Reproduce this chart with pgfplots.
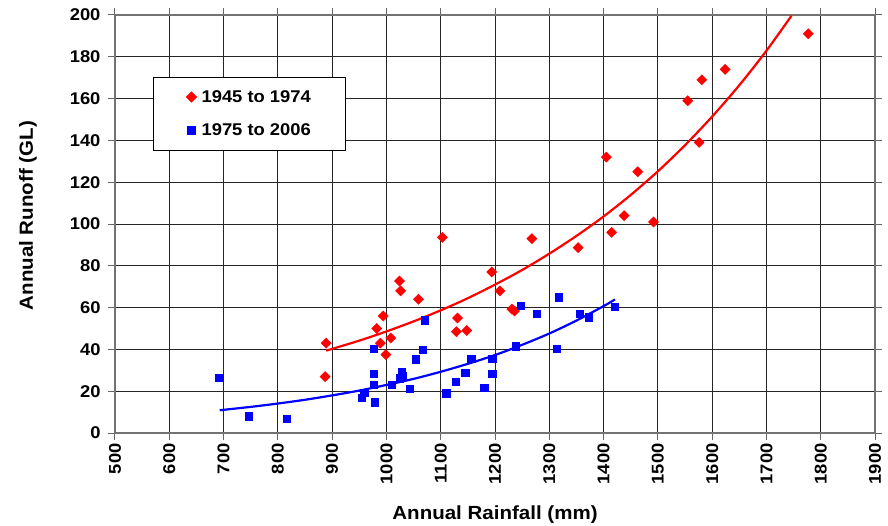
\documentclass[border=0pt]{standalone}
\usepackage{fontspec}
\setmainfont{Liberation Sans}[FakeStretch=1.08]
\usepackage{pgfplots}
\pgfplotsset{compat=1.18}
\begin{document}
\begin{tikzpicture}
\useasboundingbox (-115pt,-92pt) rectangle (773pt,433pt);
\begin{axis}[
  scale only axis, width=760pt, height=418pt,
  xmin=500, xmax=1900, ymin=0, ymax=200,
  xtick={500,600,...,1900}, ytick={0,20,...,200},
  grid=major, major grid style={black!85, line width=0.8pt},
  axis line style={black!55, line width=1.3pt},
  tick align=outside, major tick length=7pt,
  tick style={black!60, line width=1pt},
  /pgf/number format/assume math mode=true,
  /pgf/number format/1000 sep={},
  xticklabel style={rotate=90, anchor=east, font=\bfseries\fontsize{17}{17}\selectfont},
  yticklabel style={xshift=-4pt, font=\bfseries\fontsize{17}{17}\selectfont},
  xlabel={Annual Rainfall (mm)}, ylabel={Annual Runoff (GL)},
  label style={font=\bfseries\fontsize{19}{19}\selectfont},
  xlabel style={at={(axis description cs:0.5,-0.194)}, anchor=center},
  ylabel style={at={(axis description cs:-0.1145,0.52)}, anchor=center},
  legend style={at={(0.05,0.8517)}, anchor=north west, draw=black, line width=0.8pt,
    font=\bfseries\fontsize{17}{17}\selectfont, inner xsep=33pt, inner ysep=11pt,
    row sep=16pt},
  legend cell align=left,
  /tikz/every odd column/.append style={column sep=3pt},
]
\addplot[only marks, mark=square*, mark size=3.6pt, color=red, mark options={rotate=45}]
coordinates {
(889,43) (887,27) (1103,93.6) (1268,93) (1353,88.7) (1415,96) (1024,72.7) (1026,68)
(1059,64) (1194,77) (1209,68) (1231,59.3) (1236,58.4) (994,56) (982,50) (989,43)
(1008,45.5) (999,37.5) (1131,55) (1129,48.5) (1148,49) (1777,191) (1624,174) (1581,169)
(1555,159) (1576,139) (1463,125) (1438,104) (1492,101) (1405,132)
};
\addlegendentry{1945 to 1974}
\addplot[only marks, mark=square*, mark size=3.6pt, color=blue]
coordinates {
(692,26.5) (747,8) (817,7) (1248,61) (1277,57) (1317,65) (1314,40.5) (1356,57)
(1372,55.4) (1421,60.3) (1071,54) (977,40.5) (1067,40) (1054,35.3) (977,28.2) (1028,29.3)
(1024,26.2) (1030,27.5) (977,23) (1010,23) (1043,21.2) (959,19.3) (954,17) (979,14.7)
(1110,19) (1128,24.5) (1145,29) (1156,35.6) (1180,21.7) (1195,28.2) (1195,35.7) (1238,41.5)
};
\addlegendentry{1975 to 2006}
\addplot[red, line width=2.2pt, smooth, forget plot] coordinates {
(889,39.4) (950,44.2) (1000,48.6) (1050,53.4) (1100,58.7) (1150,64.5) (1200,71.0)
(1250,78.0) (1300,85.8) (1350,94.3) (1400,103.6) (1450,113.9) (1500,125.2) (1550,137.7)
(1600,151.4) (1650,166.4) (1700,182.9) (1746,199.6)
};
\addplot[blue, line width=2.2pt, smooth, forget plot] coordinates {
(693,10.9) (750,12.5) (800,14.1) (850,15.9) (900,18.0) (950,20.3) (1000,23.0)
(1050,25.9) (1100,29.3) (1150,33.1) (1200,37.3) (1250,42.2) (1300,47.6) (1350,53.8)
(1400,60.7) (1421,63.9)
};
\end{axis}
\end{tikzpicture}
\end{document}
